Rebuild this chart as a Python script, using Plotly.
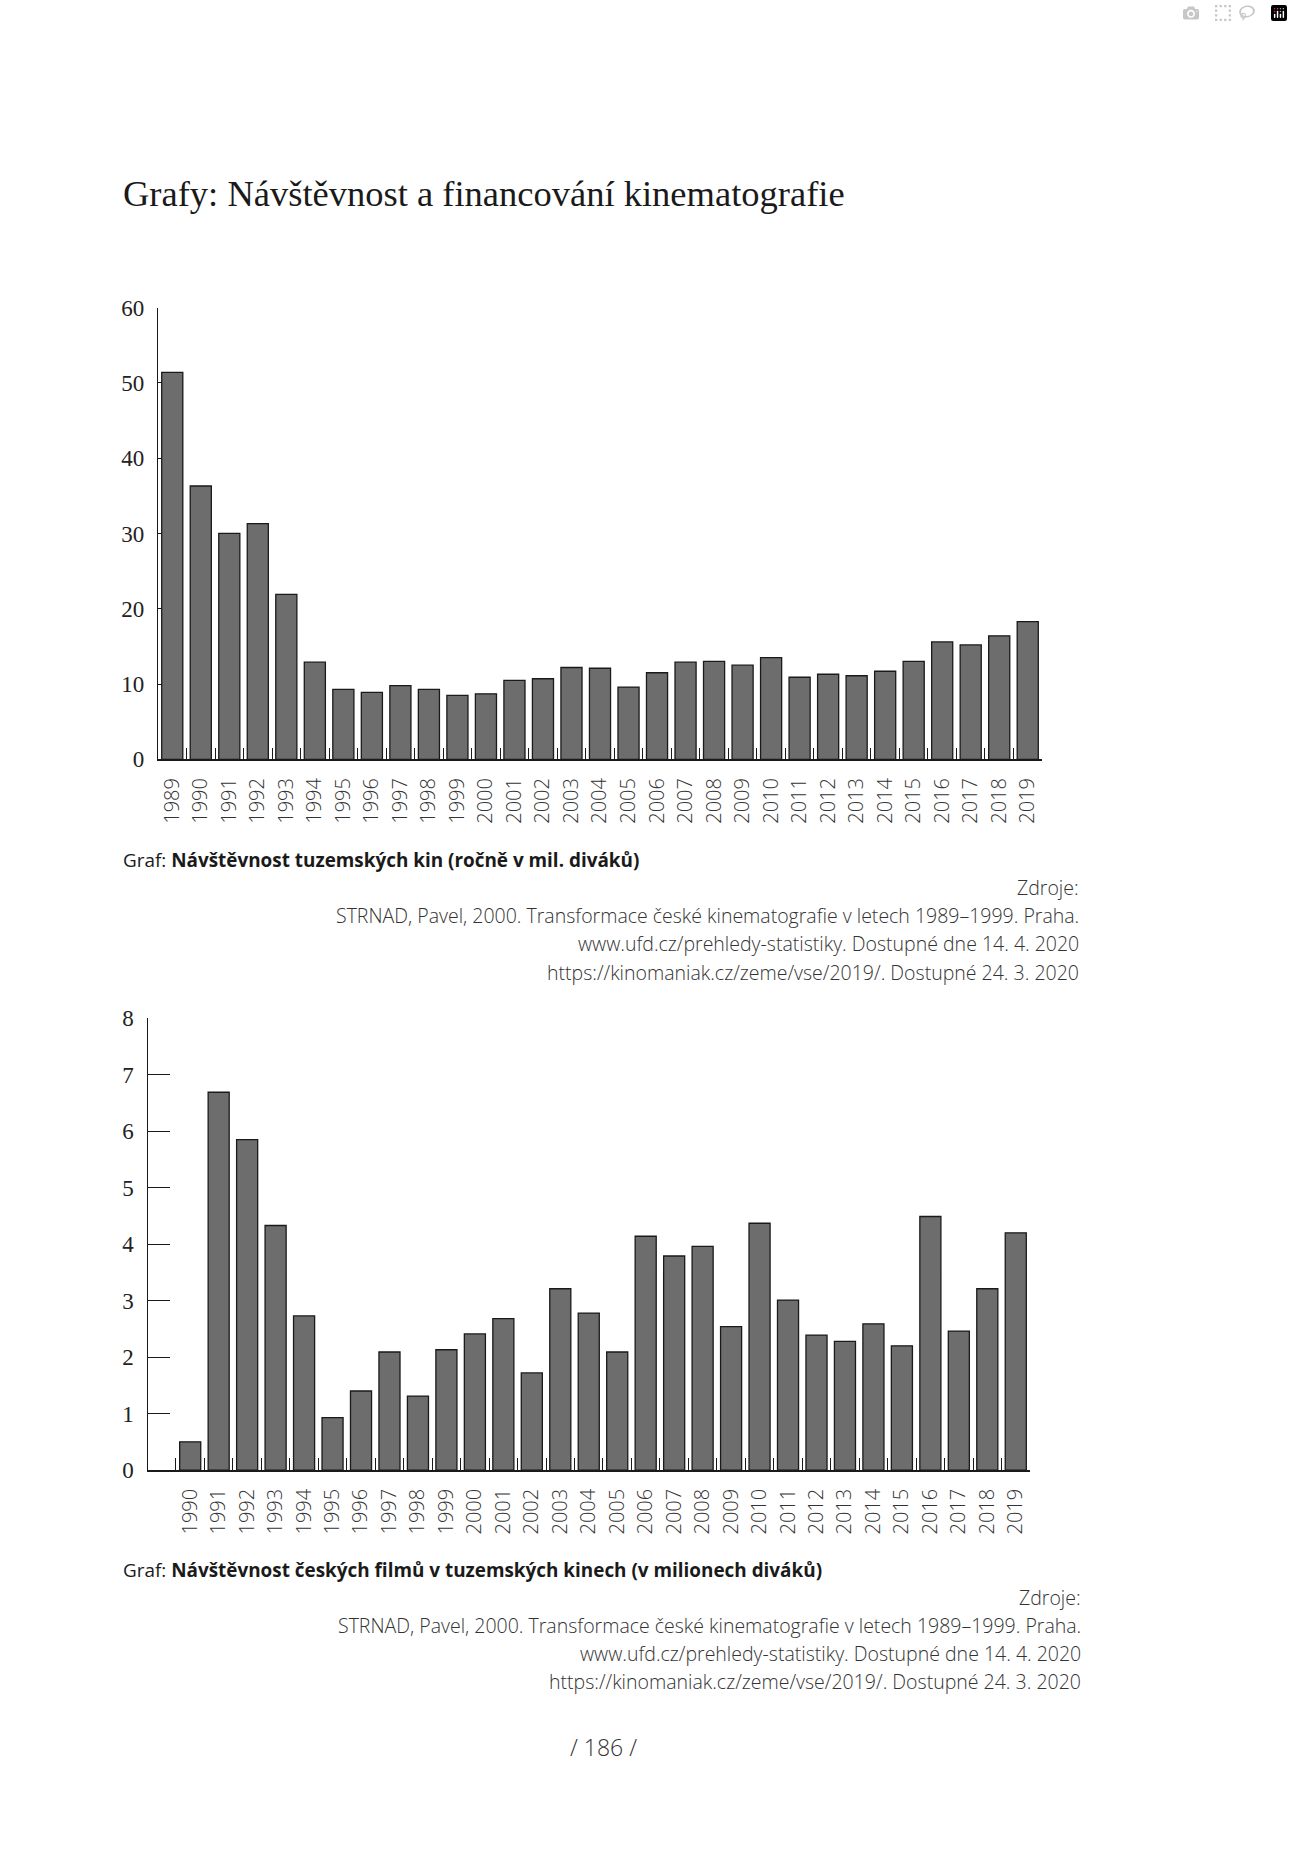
import plotly.graph_objects as go

W, H = 1293, 1866

years_all = ["1989", "1990", "1991", "1992", "1993", "1994", "1995", "1996", "1997", "1998",
             "1999", "2000", "2001", "2002", "2003", "2004", "2005", "2006", "2007", "2008",
             "2009", "2010", "2011", "2012", "2013", "2014", "2015", "2016", "2017", "2018", "2019"]
visitors = [51.4, 36.3, 30.0, 31.3, 21.9, 12.9, 9.3, 8.9, 9.8, 9.3,
            8.5, 8.7, 10.5, 10.7, 12.2, 12.1, 9.6, 11.5, 12.9, 13.0,
            12.5, 13.5, 10.9, 11.3, 11.1, 11.7, 13.0, 15.6, 15.2, 16.4, 18.3]

years_cz = ["1990", "1991", "1992", "1993", "1994", "1995", "1996", "1997", "1998", "1999",
            "2000", "2001", "2002", "2003", "2004", "2005", "2006", "2007", "2008", "2009",
            "2010", "2011", "2012", "2013", "2014", "2015", "2016", "2017", "2018", "2019"]
czech_films = [0.50, 6.69, 5.85, 4.33, 2.73, 0.93, 1.40, 2.09, 1.31, 2.13,
               2.41, 2.68, 1.72, 3.21, 2.78, 2.09, 4.14, 3.79, 3.96, 2.54,
               4.37, 3.01, 2.39, 2.28, 2.59, 2.20, 4.49, 2.46, 3.21, 4.20]

page_title = "Grafy: Návštěvnost a financování kinematografie"
caption1 = "Graf: <b>Návštěvnost tuzemských kin (ročně v mil. diváků)</b>"
caption2 = "Graf: <b>Návštěvnost českých filmů v tuzemských kinech (v milionech diváků)</b>"
sources = ["Zdroje:",
           "STRNAD, Pavel, 2000. Transformace české kinematografie v letech 1989–1999. Praha.",
           "www.ufd.cz/prehledy-statistiky. Dostupné dne 14. 4. 2020",
           "https://kinomaniak.cz/zeme/vse/2019/. Dostupné 24. 3. 2020"]
page_no = "/ 186 /"

SANS = "Open Sans, sans-serif"
SERIF = "Liberation Serif, serif"
BAR = "#6d6d6d"
INK = "#1a1a1a"

# the captured page comes out slightly squeezed vertically; compensate
VS, VO = 0.987, 11.5


def px_x(x):
    return x / W


def px_y(y):
    return 1 - (y / VS - VO) / H


fig = go.Figure()
fig.add_trace(go.Bar(x=years_all, y=visitors, xaxis="x", yaxis="y",
                     marker=dict(color=BAR, line=dict(color=INK, width=1.3)),
                     hoverinfo="x+y"))
fig.add_trace(go.Bar(x=years_cz, y=czech_films, xaxis="x2", yaxis="y2",
                     marker=dict(color=BAR, line=dict(color=INK, width=1.3)),
                     hoverinfo="x+y"))

xcommon = dict(type="category", showline=True, linecolor=INK, linewidth=1.5,
               ticks="inside", ticklen=12, tickwidth=1, tickcolor=INK, tickson="boundaries",
               tickangle=-90, showgrid=False, zeroline=False, fixedrange=True,
               tickfont=dict(family=SANS, size=20, color="#333333", weight=300),
               ticklabelstandoff=9, categoryorder="array", categoryarray=years_all,
               range=[-0.5, 30.5])
ycommon = dict(showline=True, linecolor=INK, linewidth=1.3, ticks="inside", ticklen=22,
               tickwidth=1.2, tickcolor=INK, showgrid=False, zeroline=False,
               layer="below traces", fixedrange=True,
               tickfont=dict(family=SERIF, size=23, color="#222222"),
               ticklabelstandoff=8)

fig.update_layout(
    width=W, height=H, margin=dict(l=0, r=0, t=0, b=0, pad=0),
    paper_bgcolor="white", plot_bgcolor="white", showlegend=False,
    bargap=0.26,
    xaxis=dict(xcommon, domain=[px_x(158), px_x(1042)], anchor="y",
               tickmode="array", tickvals=years_all),
    yaxis=dict(ycommon, domain=[px_y(759), px_y(307)], anchor="x",
               range=[0, 60], tickmode="array", tickvals=[0, 10, 20, 30, 40, 50, 60]),
    xaxis2=dict(xcommon, domain=[px_x(147.5), px_x(1030)], anchor="y2",
                tickmode="array", tickvals=years_cz),
    yaxis2=dict(ycommon, domain=[px_y(1470), px_y(1018)], anchor="x2",
                range=[0, 8], tickmode="array", tickvals=[0, 1, 2, 3, 4, 5, 6, 7, 8]),
)


def note(text, x, y, size, family, color, xanchor="left", weight=None):
    f = dict(family=family, size=size, color=color)
    if weight:
        f["weight"] = weight
    fig.add_annotation(text=text, x=px_x(x), y=px_y(y), xref="paper", yref="paper",
                       xanchor=xanchor, yanchor="middle", showarrow=False, font=f)


note(page_title, 121, 193, 36.5, SERIF, "#1a1a1a")
note(caption1, 121, 860, 18.9, SANS, "#1a1a1a")
note(caption2, 121, 1570, 18.9, SANS, "#1a1a1a")
for i, line in enumerate(sources):
    note(line, 1081, 887 + i * 28.3, 19.5, SANS, "#333333", xanchor="right", weight=300)
    note(line, 1083, 1597 + i * 28.3, 19.5, SANS, "#333333", xanchor="right", weight=300)
note(page_no, 603, 1747, 23, SANS, "#333333", xanchor="center", weight=300)

fig.write_html("out.html", post_script=(
    "document.documentElement.style.margin='0';"
    "document.body.style.margin='0';document.body.style.padding='0';"))
